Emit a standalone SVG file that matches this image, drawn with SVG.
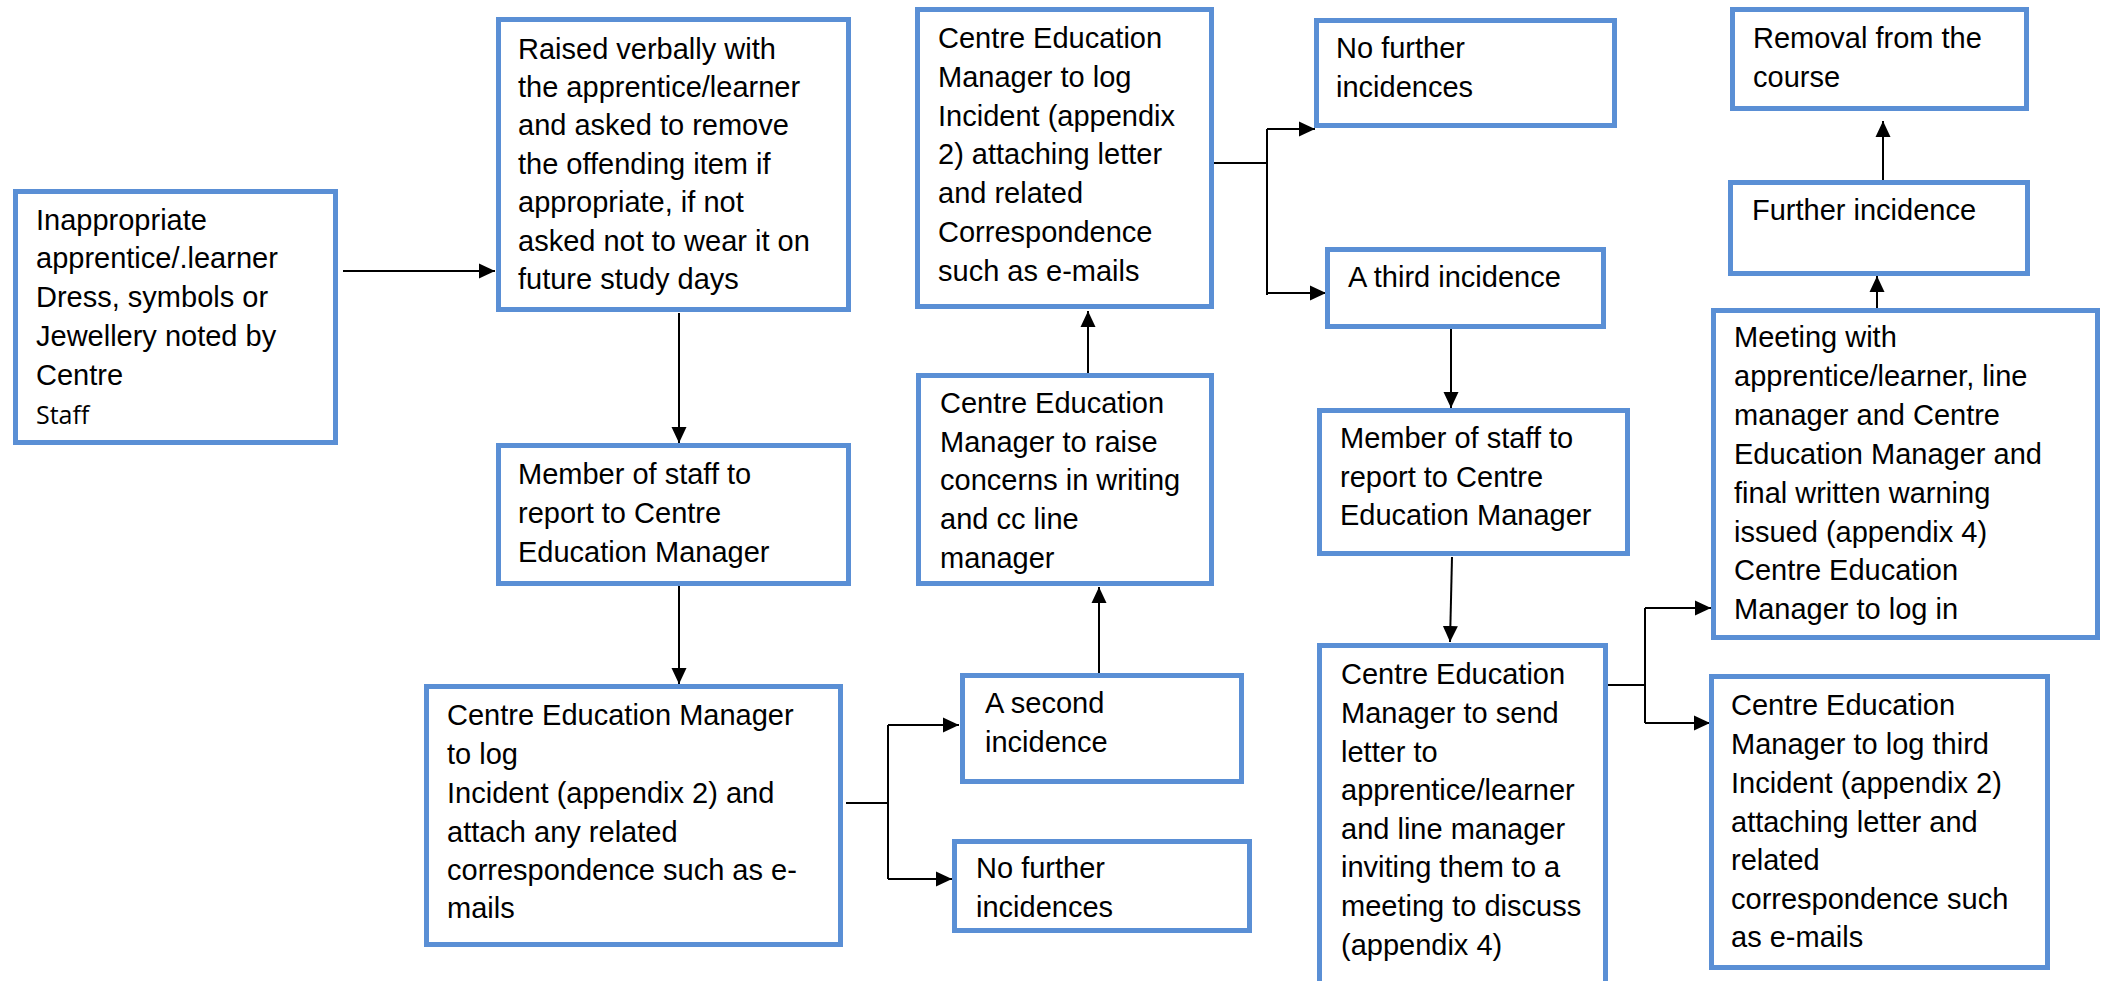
<svg xmlns="http://www.w3.org/2000/svg" width="2107" height="981" viewBox="0 0 2107 981">
<style>
.box{fill:#fff;stroke:#5A8FD5;stroke-width:5}
.t{font-family:"Liberation Sans",Arial,sans-serif;font-size:29px;fill:#000}
.s{font-family:"Open Sans",sans-serif;font-size:25px;fill:#000}
.c{fill:none;stroke:#000;stroke-width:2}
</style>
<defs>
<marker id="ah" markerUnits="userSpaceOnUse" markerWidth="16" markerHeight="16" refX="16" refY="8" orient="auto">
<path d="M0,0.5 L16,8 L0,15.5 z" fill="#000"/>
</marker>
</defs>
<rect width="2107" height="981" fill="#fff"/>
<g id="connectors">
<path class="c" d="M343,271 H495" marker-end="url(#ah)"/>
<path class="c" d="M679,313 V443" marker-end="url(#ah)"/>
<path class="c" d="M679,586 V684" marker-end="url(#ah)"/>
<path class="c" d="M846,803 H888 M888,725 V879"/>
<path class="c" d="M888,725 H959" marker-end="url(#ah)"/>
<path class="c" d="M888,879 H952" marker-end="url(#ah)"/>
<path class="c" d="M1099,673 V587" marker-end="url(#ah)"/>
<path class="c" d="M1088,373 V311" marker-end="url(#ah)"/>
<path class="c" d="M1212,163 H1267 M1267,129 V295"/>
<path class="c" d="M1267,129 H1315" marker-end="url(#ah)"/>
<path class="c" d="M1267,293 H1326" marker-end="url(#ah)"/>
<path class="c" d="M1451,295 V408" marker-end="url(#ah)"/>
<path class="c" d="M1452,557 L1450,642" marker-end="url(#ah)"/>
<path class="c" d="M1606,685 H1645 M1645,608 V723"/>
<path class="c" d="M1645,608 H1711" marker-end="url(#ah)"/>
<path class="c" d="M1645,723 H1710" marker-end="url(#ah)"/>
<path class="c" d="M1877,308 V276" marker-end="url(#ah)"/>
<path class="c" d="M1883,180 V121" marker-end="url(#ah)"/>
</g>
<g id="n1">
<rect class="box" x="15.5" y="191.5" width="320" height="251"/>
<text class="t"><tspan x="36" y="230">Inappropriate</tspan><tspan x="36" y="268">apprentice/.learner</tspan><tspan x="36" y="307">Dress, symbols or</tspan><tspan x="36" y="346">Jewellery noted by</tspan><tspan x="36" y="385">Centre</tspan></text>
<text class="s" x="36" y="424">Staff</text>
</g>
<g id="n2">
<rect class="box" x="498.5" y="19.5" width="350" height="290"/>
<text class="t"><tspan x="518" y="59">Raised verbally with</tspan><tspan x="518" y="97">the apprentice/learner</tspan><tspan x="518" y="135">and asked to remove</tspan><tspan x="518" y="174">the offending item if</tspan><tspan x="518" y="212">appropriate, if not</tspan><tspan x="518" y="251">asked not to wear it on</tspan><tspan x="518" y="289">future study days</tspan></text>
</g>
<g id="n3">
<rect class="box" x="498.5" y="445.5" width="350" height="138"/>
<text class="t"><tspan x="518" y="484">Member of staff to</tspan><tspan x="518" y="523">report to Centre</tspan><tspan x="518" y="562">Education Manager</tspan></text>
</g>
<g id="n4">
<rect class="box" x="426.5" y="686.5" width="414" height="258"/>
<text class="t"><tspan x="447" y="725">Centre Education Manager</tspan><tspan x="447" y="764">to log</tspan><tspan x="447" y="803">Incident (appendix 2) and</tspan><tspan x="447" y="842">attach any related</tspan><tspan x="447" y="880">correspondence such as e-</tspan><tspan x="447" y="918">mails</tspan></text>
</g>
<g id="n5">
<rect class="box" x="962.5" y="675.5" width="279" height="106"/>
<text class="t"><tspan x="985" y="713">A second</tspan><tspan x="985" y="752">incidence</tspan></text>
</g>
<g id="n6">
<rect class="box" x="954.5" y="841.5" width="295" height="89"/>
<text class="t"><tspan x="976" y="878">No further</tspan><tspan x="976" y="917">incidences</tspan></text>
</g>
<g id="n7">
<rect class="box" x="918.5" y="375.5" width="293" height="208"/>
<text class="t"><tspan x="940" y="413">Centre Education</tspan><tspan x="940" y="452">Manager to raise</tspan><tspan x="940" y="490">concerns in writing</tspan><tspan x="940" y="529">and cc line</tspan><tspan x="940" y="568">manager</tspan></text>
</g>
<g id="n8">
<rect class="box" x="917.5" y="9.5" width="294" height="297"/>
<text class="t"><tspan x="938" y="48">Centre Education</tspan><tspan x="938" y="87">Manager to log</tspan><tspan x="938" y="126">Incident (appendix</tspan><tspan x="938" y="164">2) attaching letter</tspan><tspan x="938" y="203">and related</tspan><tspan x="938" y="242">Correspondence</tspan><tspan x="938" y="281">such as e-mails</tspan></text>
</g>
<g id="n9">
<rect class="box" x="1316.5" y="20.5" width="298" height="105"/>
<text class="t"><tspan x="1336" y="58">No further</tspan><tspan x="1336" y="97">incidences</tspan></text>
</g>
<g id="n10">
<rect class="box" x="1327.5" y="249.5" width="276" height="77"/>
<text class="t" x="1348" y="287">A third incidence</text>
</g>
<g id="n11">
<rect class="box" x="1319.5" y="410.5" width="308" height="143"/>
<text class="t"><tspan x="1340" y="448">Member of staff to</tspan><tspan x="1340" y="487">report to Centre</tspan><tspan x="1340" y="525">Education Manager</tspan></text>
</g>
<g id="n12">
<rect class="box" x="1319.5" y="645.5" width="286" height="345"/>
<text class="t"><tspan x="1341" y="684">Centre Education</tspan><tspan x="1341" y="723">Manager to send</tspan><tspan x="1341" y="762">letter to</tspan><tspan x="1341" y="800">apprentice/learner</tspan><tspan x="1341" y="839">and line manager</tspan><tspan x="1341" y="877">inviting them to a</tspan><tspan x="1341" y="916">meeting to discuss</tspan><tspan x="1341" y="955">(appendix 4)</tspan></text>
</g>
<g id="n13">
<rect class="box" x="1713.5" y="310.5" width="384" height="327"/>
<text class="t"><tspan x="1734" y="347">Meeting with</tspan><tspan x="1734" y="386">apprentice/learner, line</tspan><tspan x="1734" y="425">manager and Centre</tspan><tspan x="1734" y="464">Education Manager and</tspan><tspan x="1734" y="503">final written warning</tspan><tspan x="1734" y="542">issued (appendix 4)</tspan><tspan x="1734" y="580">Centre Education</tspan><tspan x="1734" y="619">Manager to log in</tspan></text>
</g>
<g id="n14">
<rect class="box" x="1711.5" y="676.5" width="336" height="291"/>
<text class="t"><tspan x="1731" y="715">Centre Education</tspan><tspan x="1731" y="754">Manager to log third</tspan><tspan x="1731" y="793">Incident (appendix 2)</tspan><tspan x="1731" y="832">attaching letter and</tspan><tspan x="1731" y="870">related</tspan><tspan x="1731" y="909">correspondence such</tspan><tspan x="1731" y="947">as e-mails</tspan></text>
</g>
<g id="n15">
<rect class="box" x="1730.5" y="182.5" width="297" height="91"/>
<text class="t" x="1752" y="220">Further incidence</text>
</g>
<g id="n16">
<rect class="box" x="1732.5" y="9.5" width="294" height="99"/>
<text class="t"><tspan x="1753" y="48">Removal from the</tspan><tspan x="1753" y="87">course</tspan></text>
</g>
</svg>
